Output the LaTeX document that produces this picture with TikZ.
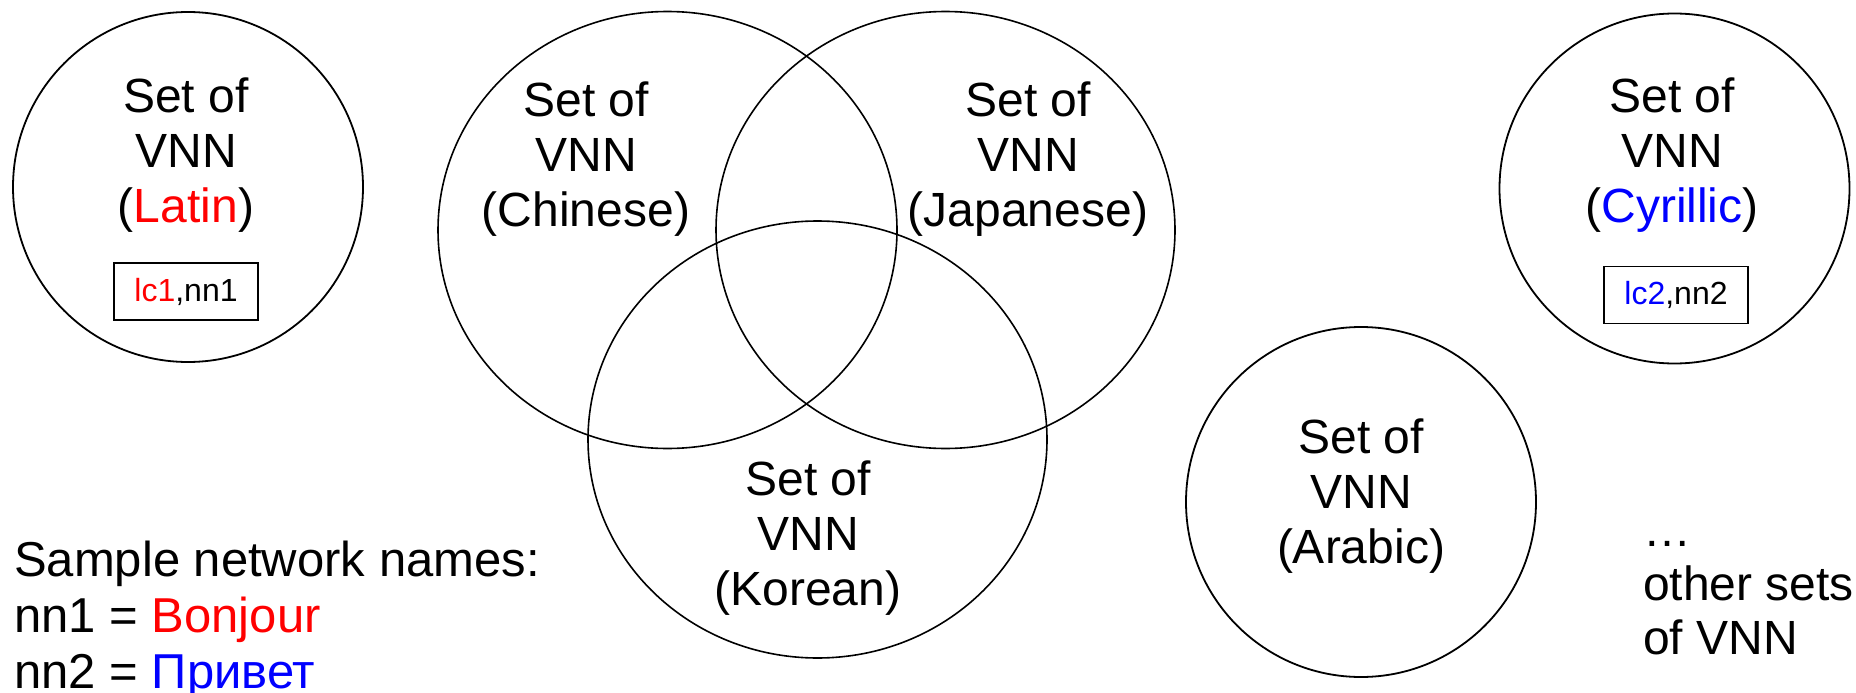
\documentclass[tikz,border=0pt]{standalone}
\usepackage{fontspec}
\setmainfont{Liberation Sans}
\usetikzlibrary{shapes.geometric}
\definecolor{vred}{RGB}{255,0,0}
\definecolor{vblue}{RGB}{0,0,255}
\tikzset{
  setcircle/.style={circle, draw, line width=1.8pt, minimum size=350pt, inner sep=0pt},
  setellipse/.style={ellipse, draw, line width=1.6pt, minimum width=459pt, minimum height=437pt, inner sep=0pt},
  settext/.style={font=\fontsize{48}{55}\selectfont, align=center, inner sep=0pt, anchor=base},
  pairbox/.style={draw, line width=1.8pt, minimum width=144pt, minimum height=57pt, inner sep=0pt, font=\fontsize{32}{36}\selectfont},
  sidetext/.style={font=\fontsize{49}{56}\selectfont, align=left, inner sep=0pt, anchor=base west},
  othertext/.style={font=\fontsize{48}{54}\selectfont, align=left, inner sep=0pt, anchor=base west}
}
\begin{document}
\begin{tikzpicture}[x=1pt, y=-1pt]
\useasboundingbox (0,0) rectangle (1856,693);
% Latin
\node[setcircle] (latin) at (188,187) {};
\node[settext] (latintxt) at (186,222) {Set of\\VNN\\(\textcolor{vred}{Latin})};
\node[pairbox] (latinbox) at (186,291.5) {\textcolor{vred}{lc1},nn1};
% Venn
\node[setellipse] (chinese) at (667.5,230) {};
\node[setellipse] (japanese) at (945.5,230) {};
\node[setellipse] (korean) at (817.5,439.5) {};
\node[settext] (chinesetxt) at (586,226) {Set of\\VNN\\(Chinese)};
\node[settext] (japanesetxt) at (1028,226) {Set of\\VNN\\(Japanese)};
\node[settext] (koreantxt) at (808,605) {Set of\\VNN\\(Korean)};
% Arabic
\node[setcircle] (arabic) at (1361,502) {};
\node[settext] (arabictxt) at (1361,563) {Set of\\VNN\\(Arabic)};
% Cyrillic
\node[setcircle] (cyrillic) at (1674.5,188.5) {};
\node[settext] (cyrillictxt) at (1672,222) {Set of\\VNN\\(\textcolor{vblue}{Cyrillic})};
\node[pairbox] (cyrillicbox) at (1676,295) {\textcolor{vblue}{lc2},nn2};
% sample names
\node[sidetext] (sample) at (14,688) {Sample network names:\\nn1 = \textcolor{vred}{Bonjour}\\nn2 = \textcolor{vblue}{Привет}};
% other sets
\node[othertext] (others) at (1643,654) {…\\other sets\\of VNN};
\end{tikzpicture}
\end{document}
